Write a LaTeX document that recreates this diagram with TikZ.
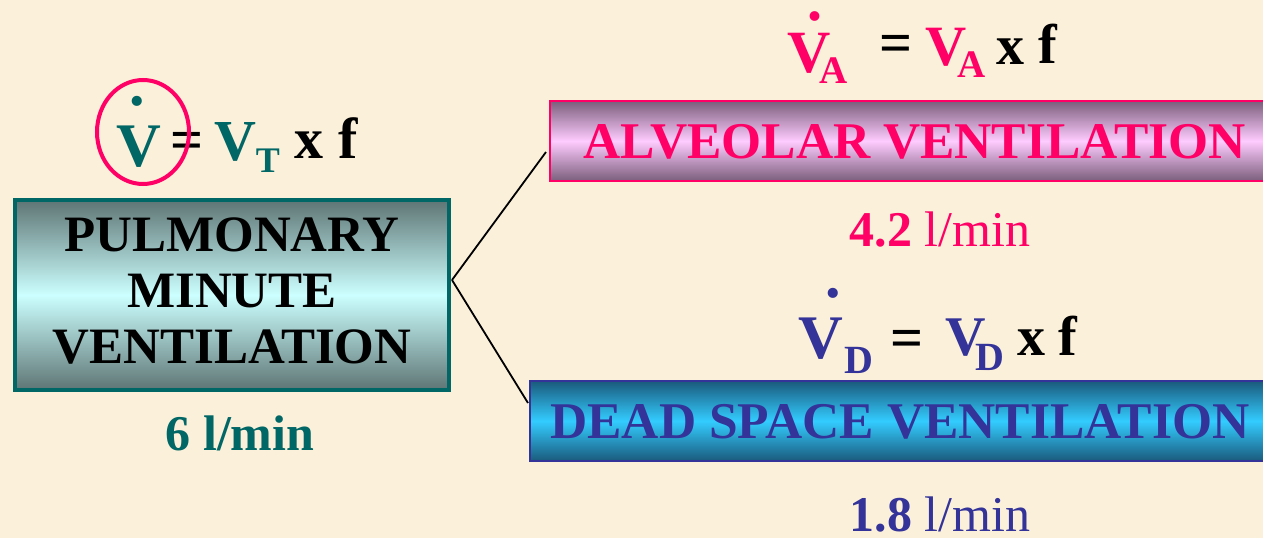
\documentclass[tikz,border=0pt]{standalone}
\usepackage{fontspec}
\setmainfont{Liberation Serif}
\usetikzlibrary{shapes.geometric}
\definecolor{bg}{HTML}{FBF0D9}
\definecolor{tealc}{HTML}{006666}
\definecolor{pinkc}{HTML}{FF0066}
\definecolor{bluec}{HTML}{333399}
\definecolor{pmvdark}{HTML}{5E7574}
\definecolor{pmvlight}{HTML}{CCFFFF}
\definecolor{alvdark}{HTML}{7A5E7C}
\definecolor{alvlight}{HTML}{FFCCFF}
\definecolor{deaddark}{HTML}{1A5A7C}
\definecolor{deadlight}{HTML}{33CCFF}
\newcommand{\fs}[1]{\fontsize{#1}{#1}\selectfont}
\newcommand{\dotV}[2]{\ooalign{V\cr\hidewidth\kern#1\raisebox{#2}{.}\hidewidth\cr}}
\begin{document}
\begin{tikzpicture}[x=1pt,y=-1pt,
  every node/.style={inner sep=0pt, outer sep=0pt},
  glyph/.style={anchor=base, font=\bfseries\fs{#1}},
  glyph/.default=58,
  pmvbox/.style={draw=tealc, line width=4pt, top color=pmvdark, bottom color=pmvdark, middle color=pmvlight},
  alvbox/.style={draw=pinkc, line width=2.5pt, top color=alvdark, bottom color=alvdark, middle color=alvlight},
  deadbox/.style={draw=bluec, line width=2.5pt, top color=deaddark, bottom color=deaddark, middle color=deadlight},
  conn/.style={draw=black, line width=1.8pt},
  ring/.style={ellipse, draw=pinkc, line width=4pt}]
\useasboundingbox (0,0) rectangle (1263,538);
\fill[bg] (0,0) rectangle (1263,538);
\clip (0,0) rectangle (1263,538);

% boxes
\node[pmvbox, minimum width=434pt, minimum height=190pt] (pmv) at (232,295) {};
\node[alvbox, minimum width=750pt, minimum height=80pt] (alv) at (925,141) {};
\node[deadbox, minimum width=770pt, minimum height=80pt] (dead) at (915,421) {};

% box texts
\node[anchor=center, align=center, font=\bfseries\fontsize{51}{56}\selectfont] (pmvtext) at (232,290.5) {PULMONARY\\MINUTE\\VENTILATION};
\node[glyph=51.5, text=pinkc] (alvtext) at (914.5,158) {ALVEOLAR VENTILATION};
\node[glyph=51.5, text=bluec] (deadtext) at (900,438) {DEAD SPACE VENTILATION};

% rates
\node[glyph=50, text=tealc] (rate1) at (240,450) {6 l/min};
\node[glyph=50, text=pinkc] (rate2) at (940,246) {4.2 \mdseries l/min};
\node[glyph=50, text=bluec] (rate3) at (940,531) {1.8 \mdseries l/min};

% formula 1
\node[glyph=62, text=tealc] (v1) at (139,166) {\dotV{-4pt}{0.97em}};
\node[glyph=58] (eq1) at (187,159) {=};
\node[glyph=58, text=tealc] (v1b) at (235,160) {V};
\node[glyph=36, text=tealc] (t1) at (268,172) {T};
\node[glyph=58] (x1) at (309,158) {x};
\node[glyph=58] (f1) at (348,158) {f};
\node[ring, minimum width=92pt, minimum height=104pt] (ring1) at (143,132) {};

% formula 2
\node[glyph=60, text=pinkc] (v2) at (809,72) {\dotV{12pt}{0.86em}};
\node[glyph=39, text=pinkc] (a2) at (834,83) {A};
\node[glyph=58] (eq2) at (896,62) {=};
\node[glyph=57, text=pinkc] (v2b) at (946,65) {V};
\node[glyph=39, text=pinkc] (a2b) at (972,77) {A};
\node[glyph=56] (x2) at (1010,64) {x};
\node[glyph=56] (f2) at (1048,63) {f};

% formula 3
\node[glyph=62, text=bluec] (v3) at (821,358) {\dotV{24pt}{0.97em}};
\node[glyph=40, text=bluec] (d3) at (859,373) {D};
\node[glyph=58] (eq3) at (907,357) {=};
\node[glyph=56, text=bluec] (v3b) at (966,355) {V};
\node[glyph=40, text=bluec] (d3b) at (990,370) {D};
\node[glyph=56] (x3) at (1031,355) {x};
\node[glyph=56] (f3) at (1068,355) {f};

% connectors
\coordinate (fork) at (452,280);
\coordinate (alvin) at (546,152);
\coordinate (deadin) at (528,403);
\draw[conn] (fork) -- (alvin);
\draw[conn] (fork) -- (deadin);
\end{tikzpicture}
\end{document}
